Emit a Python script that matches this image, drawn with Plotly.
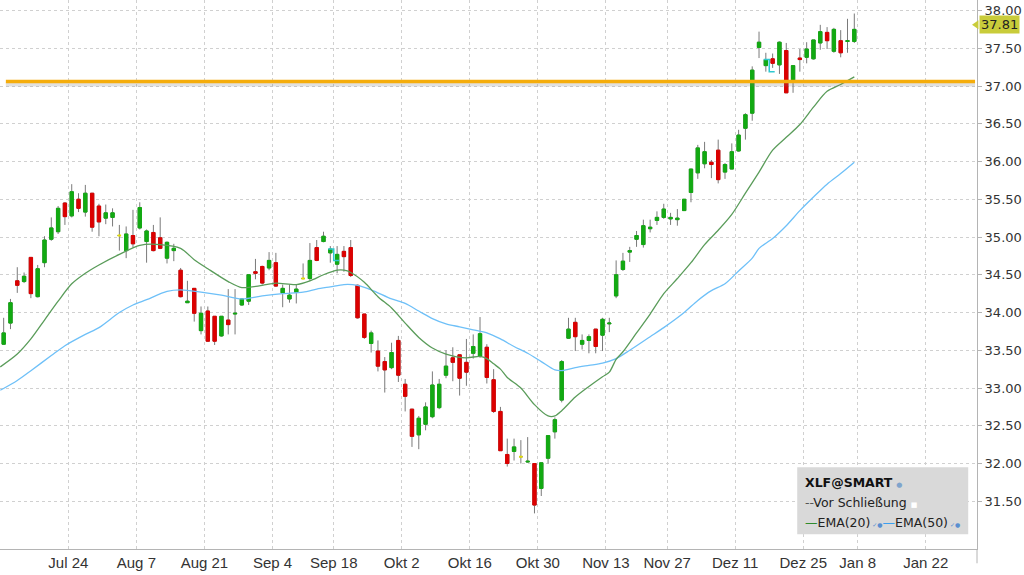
import plotly.graph_objects as go

# ---------------- data ----------------
opens = [33.58, 33.86, 34.42, 34.41, 34.73, 34.21, 34.66, 34.97, 35.07, 35.45,
         35.28, 35.50, 35.33, 35.58, 35.41, 35.25, 35.26, 35.02, 34.82, 35.02,
         35.12, 34.94, 35.06, 34.99, 34.72, 34.82, 34.56, 34.13, 34.32, 33.76,
         34.02, 33.95, 33.69, 33.90, 33.98, 34.10, 34.15, 34.54, 34.61, 34.59,
         34.66, 34.26, 34.18, 34.27, 34.45, 34.45, 34.86, 34.94, 34.79, 34.64,
         34.81, 34.86, 34.36, 33.98, 33.59, 33.49, 33.35, 33.27, 33.63, 33.05,
         32.72, 32.38, 32.52, 32.62, 32.74, 33.17, 33.40, 33.44, 33.34, 33.46,
         33.42, 33.54, 33.11, 32.69, 32.12, 32.16, 32.09, 32.02, 32.00, 31.67,
         32.07, 32.42, 32.84, 33.66, 33.87, 33.58, 33.63, 33.78, 33.70, 33.85,
         34.22, 34.57, 34.80, 34.97, 34.90, 35.11, 35.22, 35.26, 35.24, 35.23,
         35.35, 35.59, 35.85, 35.97, 35.99, 36.15, 35.86, 35.90, 36.14, 36.44,
         36.64, 37.51, 37.27, 37.36, 37.28, 37.47, 37.08, 37.37, 37.38, 37.36,
         37.57, 37.71, 37.46, 37.60, 37.59, 37.59]
highs = [33.93, 34.18, 34.60, 34.53, 34.73, 34.63, 35.01, 35.26, 35.41, 35.46,
         35.70, 35.58, 35.69, 35.58, 35.44, 35.43, 35.38, 35.16, 35.14, 35.36,
         35.46, 35.10, 35.16, 35.26, 34.94, 34.91, 34.59, 34.42, 34.32, 34.08,
         34.08, 33.95, 33.95, 34.31, 34.31, 34.19, 34.51, 34.71, 34.62, 34.80,
         34.79, 34.37, 34.37, 34.37, 34.65, 34.92, 34.96, 35.07, 34.88, 34.88,
         34.88, 34.96, 34.37, 33.98, 33.76, 33.63, 33.41, 33.60, 33.69, 33.12,
         32.72, 32.63, 32.81, 33.22, 33.12, 33.50, 33.54, 33.44, 33.65, 33.71,
         33.94, 33.58, 33.25, 32.75, 32.33, 32.33, 32.31, 32.35, 32.00, 32.01,
         32.37, 32.61, 33.37, 33.93, 33.93, 33.71, 33.71, 33.78, 33.93, 33.93,
         34.69, 34.79, 34.87, 35.08, 35.23, 35.23, 35.34, 35.44, 35.32, 35.37,
         35.50, 35.90, 36.22, 36.26, 36.02, 36.29, 35.98, 36.24, 36.42, 36.64,
         37.26, 37.72, 37.44, 37.43, 37.59, 37.57, 37.27, 37.49, 37.58, 37.61,
         37.81, 37.78, 37.77, 37.74, 37.89, 37.96]
lows = [33.57, 33.78, 34.26, 34.39, 34.19, 34.20, 34.60, 34.95, 35.04, 35.16,
        35.26, 35.33, 35.27, 35.07, 35.01, 35.17, 35.14, 34.82, 34.72, 34.86,
        35.10, 34.66, 34.81, 34.84, 34.65, 34.68, 34.20, 34.13, 33.88, 33.71,
        33.61, 33.57, 33.68, 33.71, 33.71, 34.09, 34.10, 34.44, 34.37, 34.56,
        34.34, 34.07, 34.13, 34.12, 34.44, 34.42, 34.68, 34.93, 34.66, 34.52,
        34.54, 34.47, 33.92, 33.65, 33.47, 33.22, 32.94, 33.25, 33.08, 32.69,
        32.22, 32.19, 32.44, 32.60, 32.72, 33.13, 33.09, 32.90, 33.03, 33.39,
        33.40, 33.06, 32.67, 32.17, 31.96, 32.04, 32.00, 32.01, 31.34, 31.57,
        32.00, 32.33, 32.81, 33.65, 33.49, 33.51, 33.46, 33.46, 33.49, 33.74,
        34.19, 34.55, 34.67, 34.87, 34.86, 35.06, 35.16, 35.24, 35.16, 35.15,
        35.35, 35.46, 35.77, 35.91, 35.78, 35.71, 35.77, 35.90, 36.13, 36.29,
        36.54, 37.37, 37.19, 37.24, 37.16, 36.91, 36.91, 37.19, 37.30, 37.35,
        37.48, 37.49, 37.44, 37.38, 37.44, 37.57]
closes = [33.73, 34.13, 34.36, 34.48, 34.25, 34.58, 34.96, 35.12, 35.38, 35.27,
          35.60, 35.38, 35.58, 35.13, 35.20, 35.32, 35.32, 35.02, 35.04, 34.91,
          35.39, 35.08, 34.82, 34.85, 34.93, 34.85, 34.21, 34.15, 33.99, 33.99,
          33.62, 33.62, 33.95, 33.84, 33.99, 34.18, 34.50, 34.52, 34.39, 34.69,
          34.35, 34.32, 34.23, 34.31, 34.45, 34.69, 34.69, 35.01, 34.84, 34.77,
          34.74, 34.49, 33.93, 33.67, 33.73, 33.29, 33.24, 33.47, 33.17, 32.89,
          32.36, 32.60, 32.75, 33.04, 33.05, 33.29, 33.34, 33.13, 33.21, 33.55,
          33.72, 33.14, 32.69, 32.17, 32.00, 32.22, 32.09, 32.03, 31.45, 32.01,
          32.37, 32.58, 33.35, 33.78, 33.68, 33.63, 33.68, 33.55, 33.91, 33.86,
          34.50, 34.68, 34.82, 35.02, 35.15, 35.13, 35.26, 35.37, 35.26, 35.25,
          35.50, 35.90, 36.18, 36.13, 35.96, 35.76, 35.96, 36.13, 36.35, 36.62,
          37.21, 37.58, 37.35, 37.30, 37.58, 36.91, 37.27, 37.35, 37.49, 37.61,
          37.72, 37.60, 37.75, 37.44, 37.60, 37.75]

# EMA readings (candle index, value); first reading sits at the left edge
ema20_idx = [-0.5, 2, 4, 6, 8, 10, 12, 14, 17, 20, 23, 26, 28, 30, 33, 35, 38, 40,
             43, 45, 47, 49, 50, 51, 53, 55, 57, 59, 61, 63, 65, 68, 70, 71, 72,
             73, 74, 76, 78, 80, 81, 82, 84, 86, 88, 89, 90, 91, 93, 95, 97, 99,
             101, 103, 105, 107, 109, 111, 113, 115, 117, 119, 121, 123, 125]
ema20_val = [33.28, 33.45, 33.65, 33.90, 34.15, 34.38, 34.52, 34.63, 34.77, 34.89,
             34.90, 34.85, 34.70, 34.58, 34.41, 34.33, 34.36, 34.39, 34.37, 34.42,
             34.50, 34.56, 34.56, 34.53, 34.40, 34.21, 34.06, 33.86, 33.67, 33.53,
             33.45, 33.40, 33.42, 33.39, 33.32, 33.25, 33.14, 33.00, 32.78, 32.63,
             32.63, 32.70, 32.88, 33.02, 33.15, 33.21, 33.38, 33.48, 33.73, 33.98,
             34.25, 34.45, 34.66, 34.90, 35.09, 35.30, 35.58, 35.86, 36.15, 36.32,
             36.49, 36.72, 36.93, 37.02, 37.12]
ema50_idx = [-0.5, 2, 4, 7, 9, 12, 14, 17, 19, 21, 24, 26, 29, 32, 35, 38, 41, 44,
             46, 48, 50, 52, 54, 57, 59, 61, 63, 65, 67, 69, 71, 73, 75, 77, 79,
             81, 82, 84, 86, 88, 90, 92, 95, 97, 100, 102, 104, 106, 108, 110,
             111, 113, 115, 117, 119, 121, 123, 125]
ema50_val = [32.97, 33.10, 33.23, 33.43, 33.56, 33.71, 33.80, 34.00, 34.10, 34.17,
             34.28, 34.30, 34.27, 34.23, 34.18, 34.22, 34.25, 34.27, 34.31, 34.34,
             34.37, 34.36, 34.30, 34.18, 34.12, 34.02, 33.92, 33.85, 33.81, 33.77,
             33.73, 33.65, 33.55, 33.46, 33.35, 33.24, 33.23, 33.27, 33.30, 33.33,
             33.39, 33.50, 33.68, 33.80, 34.00, 34.16, 34.29, 34.38, 34.55, 34.72,
             34.85, 34.98, 35.15, 35.35, 35.53, 35.70, 35.84, 35.99]

doji_idx = [17, 44, 76]
exdiv_idx = [49, 113]
exdiv_top = [34.84, 37.35]
exdiv_bottom = [34.69, 37.19]

tick_idx = [10, 20, 30, 40, 49, 59, 69, 79, 89, 98, 108, 118, 126, 136]
tick_labels = ["Jul 24", "Aug 7", "Aug 21", "Sep 4", "Sep 18", "Okt 2", "Okt 16",
               "Okt 30", "Nov 13", "Nov 27", "Dez 11", "Dez 25", "Jan 8", "Jan 22"]
y_ticks = [31.5, 32.0, 32.5, 33.0, 33.5, 34.0, 34.5, 35.0, 35.5, 36.0, 36.5,
           37.0, 37.5, 38.0]

level = 37.06
last_price = 37.81
x_range = [-0.54, 143.03]
y_range = [30.868, 38.139]

# ---------------- styling ----------------
GREEN = "#12aa12"
RED = "#dc0000"
WICK = "#7a7a7a"
YELLOW = "#e8e000"

n = len(closes)
idx = list(range(n))
body_hi = [max(o, c) for o, c in zip(opens, closes)]
body_lo = [min(o, c) for o, c in zip(opens, closes)]
non_doji = [i for i in idx if i not in doji_idx]

fig = go.Figure()

# EMA lines
fig.add_trace(go.Scatter(x=ema50_idx, y=ema50_val, mode="lines",
                         line=dict(color="#6ec0f8", width=1.3, shape="spline", smoothing=0.8),
                         hoverinfo="skip", showlegend=False))
fig.add_trace(go.Scatter(x=ema20_idx, y=ema20_val, mode="lines",
                         line=dict(color="#5a9c5a", width=1.3, shape="spline", smoothing=0.8),
                         hoverinfo="skip", showlegend=False))

# wicks (gray, full range)
fig.add_trace(go.Candlestick(x=idx, open=opens, high=highs, low=lows, close=closes,
                             increasing=dict(line=dict(color=WICK, width=1), fillcolor=WICK),
                             decreasing=dict(line=dict(color=WICK, width=1), fillcolor=WICK),
                             hoverinfo="skip", showlegend=False))
# bodies
fig.add_trace(go.Candlestick(x=[idx[i] for i in non_doji],
                             open=[opens[i] for i in non_doji],
                             high=[body_hi[i] for i in non_doji],
                             low=[body_lo[i] for i in non_doji],
                             close=[closes[i] for i in non_doji],
                             increasing=dict(line=dict(color=GREEN, width=1), fillcolor=GREEN),
                             decreasing=dict(line=dict(color=RED, width=1), fillcolor=RED),
                             hoverinfo="skip", showlegend=False))
# doji bodies
fig.add_trace(go.Candlestick(x=doji_idx,
                             open=[opens[i] for i in doji_idx],
                             high=[body_hi[i] for i in doji_idx],
                             low=[body_lo[i] for i in doji_idx],
                             close=[closes[i] for i in doji_idx],
                             increasing=dict(line=dict(color=YELLOW, width=2), fillcolor=YELLOW),
                             decreasing=dict(line=dict(color=YELLOW, width=2), fillcolor=YELLOW),
                             hoverinfo="skip", showlegend=False))

# ex-dividend step markers
for d, t, b in zip(exdiv_idx, exdiv_top, exdiv_bottom):
    fig.add_trace(go.Scatter(x=[d - 1.3, d - 0.5, d - 0.5, d + 0.3], y=[t, t, b, b],
                             mode="lines", line=dict(color="#2ec8d0", width=1.5),
                             hoverinfo="skip", showlegend=False))

shapes = []
# horizontal level with soft shadow
shapes.append(dict(type="line", xref="paper", x0=0.006, x1=0.998, yref="y",
                   ysizemode="pixel", yanchor=level, y0=-3, y1=-3,
                   line=dict(color="rgba(120,120,120,0.22)", width=4), layer="above"))
shapes.append(dict(type="line", xref="paper", x0=0.006, x1=0.998, yref="y",
                   y0=level, y1=level,
                   line=dict(color="#f5ad0c", width=3.5), layer="above"))
# info box
shapes.append(dict(type="rect", xref="paper", yref="paper", x0=0.816, x1=0.991,
                   y0=0.027, y1=0.149, fillcolor="#d9d9d9", line=dict(width=0),
                   layer="above"))
# last price pointer
shapes.append(dict(type="path", xref="paper", yref="y",
                   path=f"M 0.9949,{last_price} L 1.0015,{last_price + 0.06} "
                        f"L 1.0015,{last_price - 0.06} Z",
                   fillcolor="#c9cc3a", line=dict(width=0), layer="above"))
# axis extension below plot
shapes.append(dict(type="line", xref="paper", yref="paper", x0=1, x1=1, y0=0, y1=-0.026,
                   line=dict(color="#b4b4b4", width=1)))

annotations = [
    dict(xref="paper", yref="y", x=1.0, y=last_price, xanchor="left", yanchor="middle",
         xshift=2, text=f"{last_price:.2f}", showarrow=False, bgcolor="#c9cc3a",
         borderpad=1, font=dict(family="DejaVu Sans", size=13, color="#222")),
    dict(xref="paper", yref="paper", x=0.822, y=0.122, xanchor="left", yanchor="middle",
         showarrow=False, text="<b>XLF@SMART</b> <span style='color:#7fa4cc;font-size:7px'>●</span>",
         font=dict(family="DejaVu Sans", size=12.5, color="#111")),
    dict(xref="paper", yref="paper", x=0.822, y=0.0856, xanchor="left", yanchor="middle",
         showarrow=False,
         text="<span style='color:#555'>--</span>Vor Schließung <span style='color:#ffffff;font-size:7px'>■</span>",
         font=dict(family="DejaVu Sans", size=12.5, color="#222")),
    dict(xref="paper", yref="paper", x=0.822, y=0.0474, xanchor="left", yanchor="middle",
         showarrow=False,
         text="<span style='color:#2e8b2e'>—</span>EMA(20)<span style='color:#5a8fd0;font-size:6px'> ✓●</span>"
              "<span style='color:#3aa0f0'>—</span>EMA(50)<span style='color:#5a8fd0;font-size:6px'> ✓●</span>",
         font=dict(family="DejaVu Sans", size=12.5, color="#222")),
]

fig.update_layout(
    width=1024, height=575,
    margin=dict(l=0, r=47, t=0, b=26),
    paper_bgcolor="white", plot_bgcolor="white",
    showlegend=False,
    shapes=shapes, annotations=annotations,
    xaxis=dict(range=x_range, rangeslider=dict(visible=False),
               tickvals=[t - 0.5 for t in tick_idx], ticktext=tick_labels,
               showgrid=True, gridcolor="#d0d0d0", griddash="dot", gridwidth=1,
               showline=True, linecolor="#b4b4b4", linewidth=1, ticks="",
               zeroline=False,
               tickfont=dict(family="Liberation Sans Narrow, Arial Narrow, sans-serif",
                             size=15, color="#333")),
    yaxis=dict(range=y_range, side="right", tickvals=y_ticks, tickformat=".2f",
               showgrid=True, gridcolor="#d0d0d0", griddash="dot", gridwidth=1,
               showline=True, linecolor="#b4b4b4", linewidth=1,
               ticks="outside", ticklen=4, tickcolor="#b4b4b4", zeroline=False,
               tickfont=dict(family="DejaVu Sans", size=13, color="#333")),
)

fig.write_html("out.html")
